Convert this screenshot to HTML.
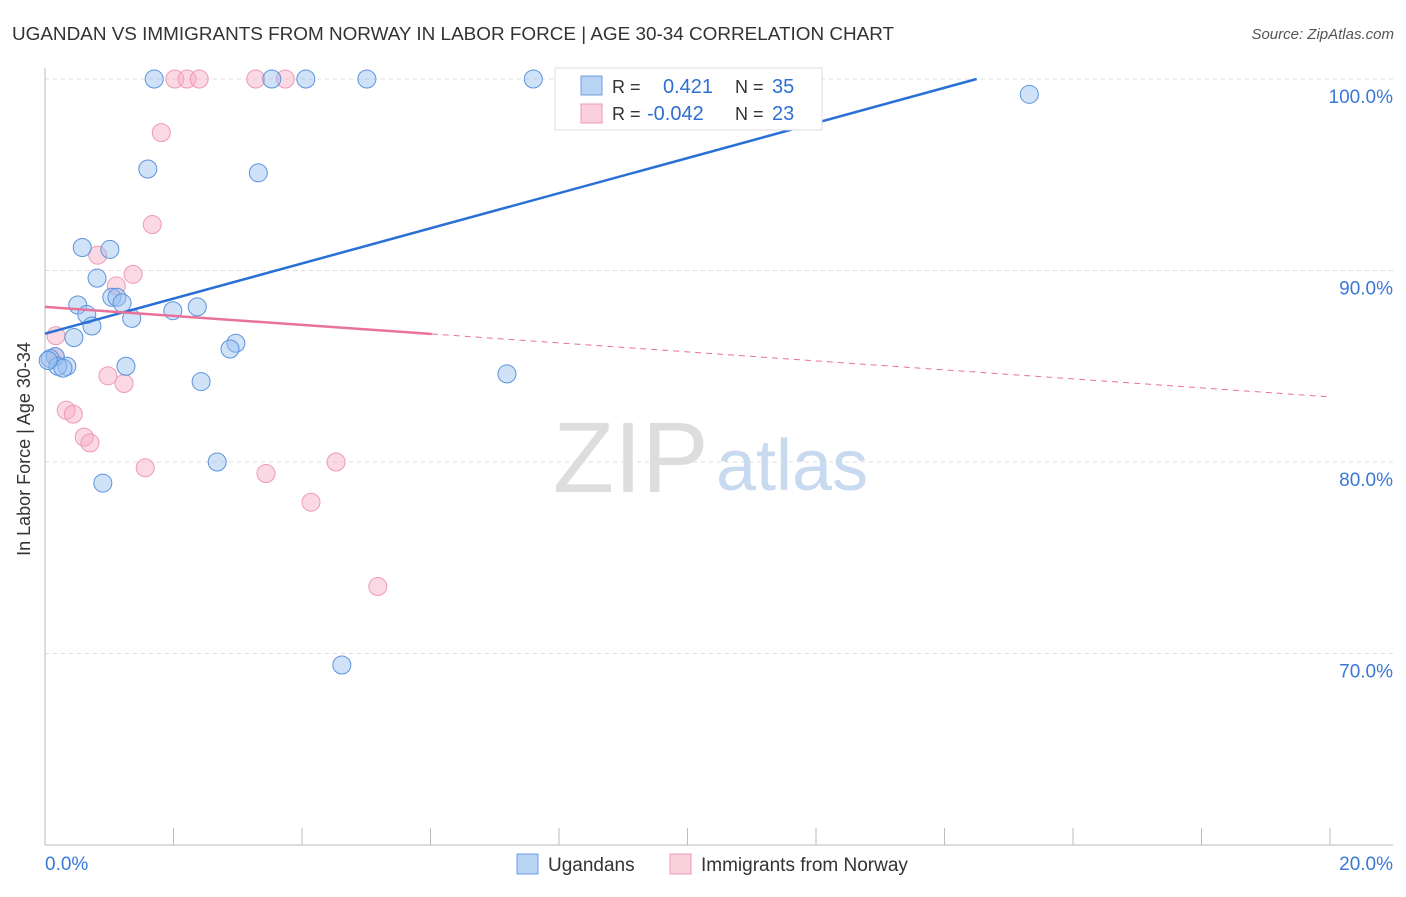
<!DOCTYPE html>
<html><head><meta charset="utf-8"><style>
body{margin:0;background:#fff;font-family:"Liberation Sans",sans-serif;}
svg text{font-family:"Liberation Sans",sans-serif;}
</style></head><body>
<svg width="1406" height="892" xmlns="http://www.w3.org/2000/svg">
<text x="12" y="40" font-size="18.9" fill="#333">UGANDAN VS IMMIGRANTS FROM NORWAY IN LABOR FORCE | AGE 30-34 CORRELATION CHART</text>
<text x="1394" y="39" font-size="15" fill="#555" text-anchor="end" font-style="italic">Source: ZipAtlas.com</text>
<text x="38" y="457" font-size="18" fill="#333" text-anchor="middle" transform="rotate(-90 30 457)">In Labor Force | Age 30-34</text>
<g id="grid"></g>
<g id="axes"></g>
<text x="553" y="492" font-size="100" fill="#ddd" font-family="Liberation Serif">ZIP</text>
<text x="716" y="490" font-size="72" fill="#c8daf0">atlas</text>
<g id="marks"></g>
<g>
<rect x="555" y="68" width="267" height="62" fill="#fff" stroke="#ddd"/>
<rect x="581" y="76" width="21" height="19" fill="#b9d3f3" stroke="#6c9fe0"/>
<rect x="581" y="104" width="21" height="19" fill="#fbd0dd" stroke="#ef9ab5"/>
<text x="612" y="93" font-size="18" fill="#333">R = </text><text x="663" y="93" font-size="20" fill="#2f6fd4">0.421</text>
<text x="735" y="93" font-size="18" fill="#333">N = </text><text x="772" y="93" font-size="20" fill="#2f6fd4">35</text>
<text x="612" y="120" font-size="18" fill="#333">R = </text><text x="647" y="120" font-size="20" fill="#2f6fd4">-0.042</text>
<text x="735" y="120" font-size="18" fill="#333">N = </text><text x="772" y="120" font-size="20" fill="#2f6fd4">23</text>
</g>
<g>
<rect x="517" y="854" width="21" height="20" fill="#b9d3f3" stroke="#6c9fe0"/>
<text x="548" y="871" font-size="19" fill="#333">Ugandans</text>
<rect x="670" y="854" width="21" height="20" fill="#fbd0dd" stroke="#ef9ab5"/>
<text x="701" y="871" font-size="19" fill="#333">Immigrants from Norway</text>
</g>
</svg>
<script>
const xTicks=[0,2,4,6,8,10,12,14,16,18,20];
const yTicks=[70,80,90,100];
const blueX=[1.70,3.53,4.06,5.01,7.60,15.32,1.60,3.32,0.58,1.01,0.81,0.51,1.04,1.12,1.20,0.65,1.99,2.37,0.73,1.35,0.45,2.97,2.88,0.16,0.08,1.26,0.34,0.20,0.28,2.43,7.19,2.68,0.90,4.62,0.05];
const blueY=[100,100,100,100,100,99.2,95.3,95.1,91.2,91.1,89.6,88.2,88.6,88.6,88.3,87.7,87.9,88.1,87.1,87.5,86.5,86.2,85.9,85.5,85.4,85.0,85.0,85.0,84.9,84.2,84.6,80.0,78.9,69.4,85.3];
const pinkX=[2.02,2.21,2.40,3.28,3.74,1.81,1.67,0.82,1.37,1.11,0.17,0.16,0.98,1.23,0.33,0.44,0.61,0.70,1.56,3.44,4.53,4.14,5.18];
const pinkY=[100,100,100,100,100,97.2,92.4,90.8,89.8,89.2,86.6,85.5,84.5,84.1,82.7,82.5,81.3,81.0,79.7,79.4,80.0,77.9,73.5];
const blueTrend=[86.7,100];const blueTrendX=[0,14.5];
const pinkTrend=[88.1,83.4];const pinkSolidEnd=6.02;
const NS='http://www.w3.org/2000/svg';
const sx=v=>45+v*64.25, sy=v=>79+(100-v)*19.15;
function mk(p,t,a){const e=document.createElementNS(NS,t);for(const k in a)e.setAttribute(k,a[k]);p.appendChild(e);return e;}
const grid=document.getElementById('grid'),axes=document.getElementById('axes'),marks=document.getElementById('marks');
yTicks.forEach(t=>{const l=mk(grid,'line',{x1:45,x2:1393,y1:sy(t),y2:sy(t),stroke:'#ddd','stroke-dasharray':'4 4'});


const tx=mk(axes,'text',{x:1393,y:sy(t)+24,'font-size':19,fill:'#3a78d8','text-anchor':'end'});tx.textContent=t.toFixed(1)+'%';

});
mk(axes,'line',{x1:45,x2:45,y1:68,y2:845,stroke:'#bbb'});
mk(axes,'line',{x1:45,x2:1393,y1:845,y2:845,stroke:'#bbb'});
xTicks.forEach(t=>{if(t>0){const l=mk(axes,'line',{x1:sx(t),x2:sx(t),y1:828,y2:845,stroke:'#bbb'});

}});
[[0,'start'],[20,'end']].forEach(([t,a])=>{const tx=mk(axes,'text',{x:t===0?45:1393,y:870,'font-size':19,fill:'#3a78d8','text-anchor':a});tx.textContent=t.toFixed(1)+'%';

});
pinkX.forEach((x,i)=>{const c=mk(marks,'circle',{cx:sx(x),cy:sy(pinkY[i]),r:9,fill:'rgba(246,170,196,0.45)',stroke:'#ef9ab5','stroke-width':1});

});
blueX.forEach((x,i)=>{const c=mk(marks,'circle',{cx:sx(x),cy:sy(blueY[i]),r:9,fill:'rgba(150,190,240,0.45)',stroke:'#5b93dd','stroke-width':1});

});
const bl=mk(marks,'line',{x1:sx(blueTrendX[0]),y1:sy(blueTrend[0]),x2:sx(blueTrendX[1]),y2:sy(blueTrend[1]),stroke:'#2a6fd6','stroke-width':2.5});


const pm=pinkTrend[0]+(pinkTrend[1]-pinkTrend[0])*pinkSolidEnd/20;
const pl=mk(marks,'line',{x1:sx(0),y1:sy(pinkTrend[0]),x2:sx(pinkSolidEnd),y2:sy(pm),stroke:'#e8729a','stroke-width':2.5});


const pd=mk(marks,'line',{x1:sx(pinkSolidEnd),y1:sy(pm),x2:sx(20),y2:sy(pinkTrend[1]),stroke:'#e8729a','stroke-width':1,'stroke-dasharray':'6 5'});


</script>
</body></html>
